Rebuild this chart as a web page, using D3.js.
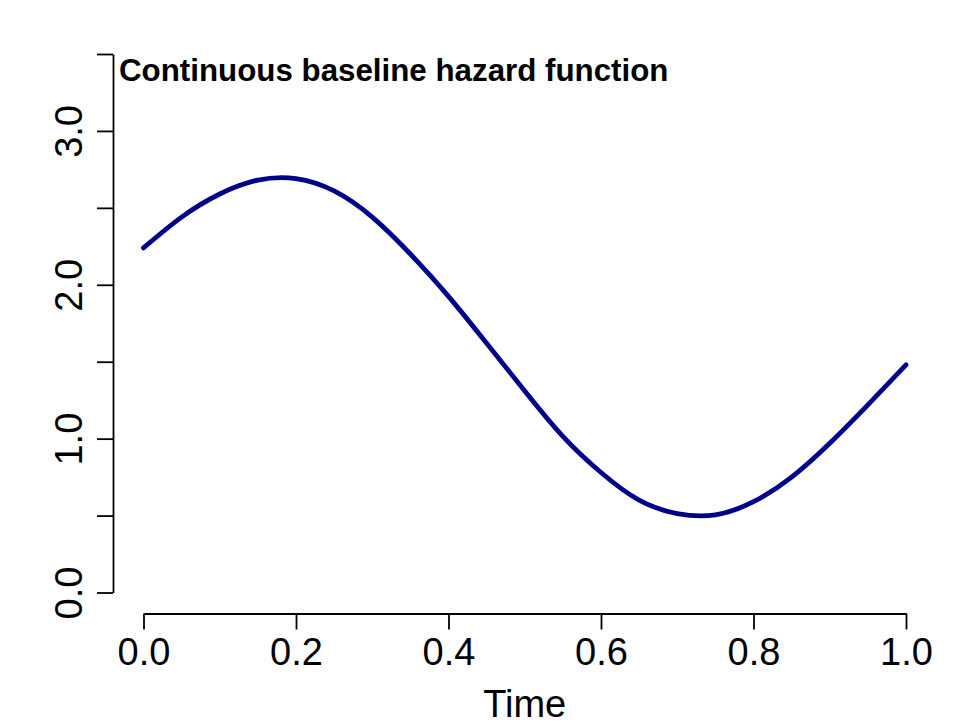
<!DOCTYPE html>
<html>
<head>
<meta charset="utf-8">
<script src="https://cdn.jsdelivr.net/npm/d3@7"></script>
<style>
  html, body { margin: 0; padding: 0; background: #fff; }
  svg { display: block; font-family: "Liberation Sans", Arial, Helvetica, sans-serif; }
</style>
</head>
<body>
<div id="chart"></div>
<script>
// Values
const timePoints = [0.00, 0.05, 0.10, 0.15, 0.20, 0.25, 0.30, 0.35, 0.40, 0.45, 0.50,
                    0.55, 0.60, 0.65, 0.70, 0.75, 0.80, 0.85, 0.90, 0.95, 1.00];
const hazardValues = [2.24, 2.44, 2.59, 2.68, 2.69, 2.61, 2.44, 2.20, 1.925, 1.62, 1.31,
                      1.015, 0.78, 0.60, 0.513, 0.505, 0.59, 0.75, 0.97, 1.22, 1.48];
const xTicks = [0, 0.2, 0.4, 0.6, 0.8, 1.0];
const yTicks = [0, 0.5, 1, 1.5, 2, 2.5, 3, 3.5];
const yLabelled = [0, 1, 2, 3];

const width = 969;
const height = 727;

const svg = d3.select('#chart')
  .append('svg')
  .attr('width', width)
  .attr('height', height)
  .attr('viewBox', `0 0 ${width} ${height}`);

// Scales - plot region matched to the reference
const x = d3.scaleLinear().domain([0, 1]).range([143.5, 906]);
const y = d3.scaleLinear().domain([0, 3.5]).range([592.5, 54]);

const yAxisX = 113;
const xAxisY = 613.5;

// Y axis (R style, detached)
const yAxis = svg.append('g')
  .attr('transform', `translate(${yAxisX},0)`)
  .call(d3.axisLeft(y)
    .tickValues(yTicks)
    .tickSize(16)
    .tickSizeOuter(0)
    .tickFormat(d => yLabelled.includes(d) ? d3.format('.1f')(d) : ''));

yAxis.selectAll('text')
  .attr('x', null)
  .attr('dy', null)
  .attr('transform', 'translate(-31,0) rotate(-90)')
  .attr('text-anchor', 'middle')
  .attr('fill', '#000')
  .style('font-size', '38px');

// X axis
const xAxis = svg.append('g')
  .attr('transform', `translate(0,${xAxisY})`)
  .call(d3.axisBottom(x)
    .tickValues(xTicks)
    .tickSize(16)
    .tickSizeOuter(0)
    .tickFormat(d3.format('.1f')));

xAxis.selectAll('text')
  .attr('y', 51.5)
  .attr('dy', null)
  .attr('fill', '#000')
  .style('font-size', '38px');

svg.selectAll('.domain, .tick line')
  .attr('stroke', '#000')
  .attr('stroke-width', 1.8);

// Axis title
svg.append('text')
  .attr('x', (x.range()[0] + x.range()[1]) / 2)
  .attr('y', 717)
  .attr('text-anchor', 'middle')
  .style('font-size', '38px')
  .text('Time');

// Plot title, left aligned inside the plot
svg.append('text')
  .attr('x', 119)
  .attr('y', 81)
  .style('font-size', '31.3px')
  .style('font-weight', 'bold')
  .text('Continuous baseline hazard function');

// Hazard curve
const line = d3.line()
  .x((d, i) => x(timePoints[i]))
  .y(d => y(d))
  .curve(d3.curveNatural);

svg.append('path')
  .datum(hazardValues)
  .attr('d', line)
  .attr('fill', 'none')
  .attr('stroke', '#00008B')
  .attr('stroke-width', 4.8)
  .attr('stroke-linecap', 'round');
</script>
</body>
</html>
